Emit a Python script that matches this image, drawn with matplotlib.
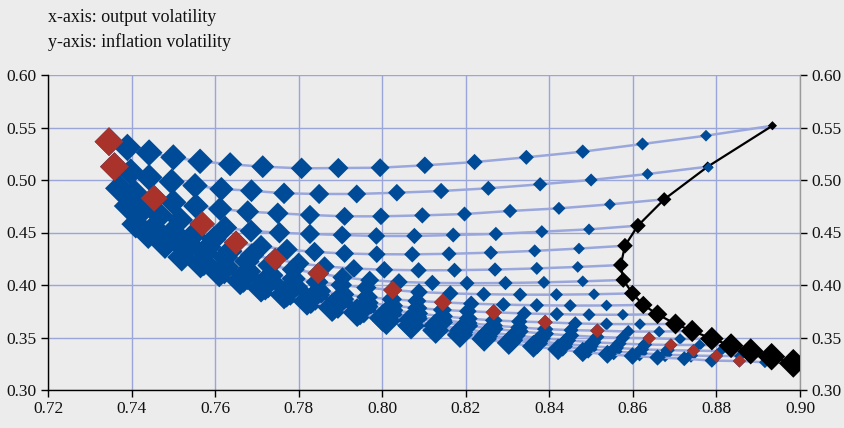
import matplotlib
matplotlib.use("Agg")
import matplotlib.pyplot as plt

# ---- data: 17 rule families (rows), points ordered right (col 0) to left (col 16)
x_r00 = [0.8934, 0.8775, 0.8623, 0.8480, 0.8345, 0.8221, 0.8102, 0.7995, 0.7895, 0.7807, 0.7714, 0.7636, 0.7564, 0.7500, 0.7442, 0.7390, 0.7346]
y_r00 = [0.5517, 0.5422, 0.5343, 0.5270, 0.5216, 0.5171, 0.5140, 0.5117, 0.5114, 0.5111, 0.5127, 0.5150, 0.5178, 0.5216, 0.5260, 0.5310, 0.5365]
x_r01 = [0.8779, 0.8635, 0.8500, 0.8378, 0.8254, 0.8141, 0.8035, 0.7939, 0.7849, 0.7765, 0.7687, 0.7615, 0.7552, 0.7496, 0.7442, 0.7398, 0.7359]
y_r01 = [0.5127, 0.5057, 0.5000, 0.4959, 0.4921, 0.4895, 0.4879, 0.4867, 0.4867, 0.4873, 0.4898, 0.4914, 0.4946, 0.4984, 0.5025, 0.5076, 0.5127]
x_r02 = [0.8675, 0.8545, 0.8423, 0.8306, 0.8197, 0.8096, 0.7997, 0.7910, 0.7827, 0.7750, 0.7678, 0.7612, 0.7554, 0.7500, 0.7454, 0.7408, 0.7371]
y_r02 = [0.4816, 0.4768, 0.4730, 0.4705, 0.4676, 0.4663, 0.4654, 0.4654, 0.4667, 0.4683, 0.4698, 0.4724, 0.4752, 0.4788, 0.4826, 0.4873, 0.4921]
x_r03 = [0.8612, 0.8495, 0.8382, 0.8272, 0.8170, 0.8077, 0.7986, 0.7904, 0.7827, 0.7754, 0.7686, 0.7624, 0.7569, 0.7516, 0.7468, 0.7424, 0.7392]
y_r03 = [0.4565, 0.4530, 0.4508, 0.4486, 0.4476, 0.4467, 0.4467, 0.4476, 0.4486, 0.4498, 0.4514, 0.4546, 0.4581, 0.4620, 0.4661, 0.4705, 0.4752]
x_r04 = [0.8581, 0.8471, 0.8365, 0.8260, 0.8160, 0.8072, 0.7987, 0.7910, 0.7838, 0.7772, 0.7710, 0.7650, 0.7597, 0.7547, 0.7499, 0.7453, 0.7410]
y_r04 = [0.4374, 0.4347, 0.4325, 0.4308, 0.4297, 0.4292, 0.4293, 0.4300, 0.4315, 0.4338, 0.4368, 0.4403, 0.4438, 0.4473, 0.4510, 0.4545, 0.4580]
x_r05 = [0.8571, 0.8468, 0.8370, 0.8270, 0.8173, 0.8087, 0.8005, 0.7932, 0.7862, 0.7800, 0.7744, 0.7688, 0.7635, 0.7584, 0.7535, 0.7487, 0.7440]
y_r05 = [0.4190, 0.4172, 0.4158, 0.4147, 0.4141, 0.4140, 0.4145, 0.4157, 0.4177, 0.4206, 0.4245, 0.4283, 0.4322, 0.4362, 0.4402, 0.4441, 0.4480]
x_r06 = [0.8577, 0.8480, 0.8387, 0.8295, 0.8203, 0.8120, 0.8040, 0.7970, 0.7905, 0.7847, 0.7787, 0.7730, 0.7676, 0.7624, 0.7575, 0.7527, 0.7480]
y_r06 = [0.4048, 0.4035, 0.4025, 0.4019, 0.4017, 0.4020, 0.4029, 0.4046, 0.4073, 0.4111, 0.4148, 0.4186, 0.4225, 0.4265, 0.4306, 0.4346, 0.4385]
x_r07 = [0.8599, 0.8507, 0.8417, 0.8330, 0.8243, 0.8163, 0.8088, 0.8025, 0.7962, 0.7902, 0.7844, 0.7788, 0.7733, 0.7679, 0.7626, 0.7573, 0.7520]
y_r07 = [0.3920, 0.3912, 0.3908, 0.3908, 0.3912, 0.3920, 0.3933, 0.3952, 0.3975, 0.4000, 0.4028, 0.4059, 0.4093, 0.4130, 0.4170, 0.4215, 0.4265]
x_r08 = [0.8625, 0.8537, 0.8450, 0.8370, 0.8290, 0.8213, 0.8145, 0.8083, 0.8023, 0.7964, 0.7906, 0.7849, 0.7792, 0.7735, 0.7678, 0.7622, 0.7565]
y_r08 = [0.3810, 0.3805, 0.3804, 0.3807, 0.3813, 0.3822, 0.3835, 0.3848, 0.3864, 0.3885, 0.3911, 0.3943, 0.3981, 0.4027, 0.4079, 0.4137, 0.4200]
x_r09 = [0.8659, 0.8576, 0.8495, 0.8418, 0.8340, 0.8267, 0.8205, 0.8144, 0.8084, 0.8024, 0.7964, 0.7904, 0.7845, 0.7786, 0.7727, 0.7668, 0.7610]
y_r09 = [0.3721, 0.3717, 0.3717, 0.3722, 0.3729, 0.3740, 0.3750, 0.3763, 0.3780, 0.3803, 0.3831, 0.3866, 0.3906, 0.3951, 0.4001, 0.4056, 0.4115]
x_r10 = [0.8702, 0.8617, 0.8537, 0.8462, 0.8390, 0.8328, 0.8267, 0.8206, 0.8145, 0.8084, 0.8023, 0.7962, 0.7901, 0.7840, 0.7780, 0.7720, 0.7660]
y_r10 = [0.3629, 0.3627, 0.3628, 0.3634, 0.3645, 0.3652, 0.3663, 0.3680, 0.3702, 0.3729, 0.3760, 0.3796, 0.3836, 0.3880, 0.3930, 0.3983, 0.4040]
x_r11 = [0.8742, 0.8663, 0.8589, 0.8515, 0.8452, 0.8390, 0.8328, 0.8266, 0.8204, 0.8142, 0.8080, 0.8018, 0.7956, 0.7894, 0.7832, 0.7771, 0.7710]
y_r11 = [0.3562, 0.3556, 0.3557, 0.3565, 0.3570, 0.3580, 0.3595, 0.3614, 0.3638, 0.3666, 0.3698, 0.3734, 0.3774, 0.3818, 0.3865, 0.3916, 0.3970]
x_r12 = [0.8789, 0.8713, 0.8639, 0.8576, 0.8514, 0.8452, 0.8390, 0.8328, 0.8266, 0.8204, 0.8142, 0.8080, 0.8018, 0.7956, 0.7894, 0.7829, 0.7765]
y_r12 = [0.3489, 0.3486, 0.3493, 0.3497, 0.3505, 0.3519, 0.3536, 0.3558, 0.3583, 0.3611, 0.3644, 0.3679, 0.3718, 0.3760, 0.3805, 0.3854, 0.3905]
x_r13 = [0.8835, 0.8760, 0.8691, 0.8629, 0.8567, 0.8505, 0.8443, 0.8381, 0.8319, 0.8257, 0.8195, 0.8133, 0.8071, 0.8009, 0.7947, 0.7883, 0.7820]
y_r13 = [0.3422, 0.3429, 0.3429, 0.3433, 0.3442, 0.3455, 0.3473, 0.3494, 0.3519, 0.3548, 0.3581, 0.3617, 0.3656, 0.3699, 0.3744, 0.3793, 0.3845]
x_r14 = [0.8882, 0.8810, 0.8745, 0.8683, 0.8621, 0.8559, 0.8497, 0.8435, 0.8373, 0.8311, 0.8249, 0.8187, 0.8125, 0.8063, 0.8001, 0.7940, 0.7880]
y_r14 = [0.3368, 0.3371, 0.3375, 0.3379, 0.3387, 0.3401, 0.3418, 0.3439, 0.3464, 0.3493, 0.3525, 0.3560, 0.3599, 0.3641, 0.3686, 0.3734, 0.3785]
x_r15 = [0.8932, 0.8856, 0.8800, 0.8739, 0.8677, 0.8616, 0.8554, 0.8493, 0.8432, 0.8371, 0.8310, 0.8248, 0.8187, 0.8125, 0.8063, 0.8001, 0.7940]
y_r15 = [0.3317, 0.3324, 0.3324, 0.3328, 0.3336, 0.3350, 0.3367, 0.3389, 0.3414, 0.3443, 0.3475, 0.3511, 0.3550, 0.3592, 0.3638, 0.3686, 0.3738]
x_r16 = [0.8984, 0.8916, 0.8855, 0.8789, 0.8723, 0.8659, 0.8599, 0.8539, 0.8480, 0.8421, 0.8362, 0.8303, 0.8244, 0.8186, 0.8128, 0.8069, 0.8010]
y_r16 = [0.3254, 0.3264, 0.3276, 0.3280, 0.3298, 0.3310, 0.3324, 0.3340, 0.3362, 0.3387, 0.3416, 0.3449, 0.3486, 0.3525, 0.3567, 0.3612, 0.3660]

# column at which each row carries the red (highlighted) point
red_col = [16, 16, 14, 12, 11, 10, 9, 7, 6, 5, 4, 3, 2, 2, 2, 2, 2]
# relative marker magnitude per column (blue/red) and per row (black frontier)
col_mag = [8, 9, 10, 11, 11.5, 12.5, 13.5, 14.5, 15.5, 16.5, 17.5, 18.5, 19.5, 20, 20.5, 21, 22]
row_mag = [7, 8, 11, 12, 12, 12, 12, 13, 14, 15, 16, 17, 18, 19, 20, 21, 22]

xticks = [0.72, 0.74, 0.76, 0.78, 0.80, 0.82, 0.84, 0.86, 0.88, 0.90]
yticks = [0.30, 0.35, 0.40, 0.45, 0.50, 0.55, 0.60]

rows_x = [x_r00, x_r01, x_r02, x_r03, x_r04, x_r05, x_r06, x_r07, x_r08,
          x_r09, x_r10, x_r11, x_r12, x_r13, x_r14, x_r15, x_r16]
rows_y = [y_r00, y_r01, y_r02, y_r03, y_r04, y_r05, y_r06, y_r07, y_r08,
          y_r09, y_r10, y_r11, y_r12, y_r13, y_r14, y_r15, y_r16]

BG = '#ececec'
BLUE = '#004b97'
RED = '#a9322a'
LINE = '#9aa7dc'
GRID = '#9aa5d8'
FONT = 'Liberation Serif'


def area(px):
    # diamond tip-to-tip size in pixels -> scatter area (points^2)
    return (px / 1.5) ** 2


fig = plt.figure(figsize=(8.45, 4.28), dpi=100, facecolor=BG)
ax = fig.add_axes([48 / 845, 38 / 428, 752 / 845, 315 / 428])
ax.set_facecolor(BG)
ax.set_xlim(0.72, 0.90)
ax.set_ylim(0.30, 0.60)
ax.set_xticks(xticks)
ax.set_yticks(yticks)
ax.set_xticklabels([f"{v:.2f}" for v in xticks], fontfamily=FONT, fontsize=12.5)
ax.set_yticklabels([f"{v:.2f}" for v in yticks], fontfamily=FONT, fontsize=12.5)
ax.grid(True, color=GRID, linewidth=1.0, zorder=0)
ax.set_axisbelow(True)
ax.tick_params(axis='both', direction='out', length=5, width=1, colors='black',
               labelcolor='#111111', pad=3)
ax.tick_params(axis='y', right=True, labelright=True)
for side in ['left', 'bottom']:
    ax.spines[side].set_color('black')
    ax.spines[side].set_linewidth(1.0)
for side in ['top', 'right']:
    ax.spines[side].set_color('#9a9a9a')
    ax.spines[side].set_linewidth(1.0)
ax.spines['top'].set_visible(False)

n = len(rows_x)
for r in range(n):
    xs, ys = rows_x[r], rows_y[r]
    ax.plot(xs, ys, color=LINE, linewidth=1.8, zorder=2 + 2 * r, solid_capstyle='round')
    ax.scatter(xs[1:], ys[1:], s=[area(m) for m in col_mag[1:]], marker='D',
               color=BLUE, linewidths=0, zorder=3 + 2 * r)
    if r == 1:
        ax.scatter([xs[0]], [ys[0]], s=area(col_mag[0]), marker='D', color=BLUE,
                   linewidths=0, zorder=80)

# red highlighted points
rx = [rows_x[r][red_col[r]] for r in range(n)]
ry = [rows_y[r][red_col[r]] for r in range(n)]
rs = [area(col_mag[red_col[r]]) for r in range(n)]
ax.scatter(rx, ry, s=rs, marker='D', color=RED, linewidths=0, zorder=60)

# black frontier (col 0 of each row)
bx = [rows_x[r][0] for r in range(n)]
by = [rows_y[r][0] for r in range(n)]
ax.plot(bx, by, color='black', linewidth=1.6, zorder=70)
ax.scatter(bx, by, s=[area(m) for m in row_mag], marker='D', color='black',
           linewidths=0, zorder=71)

fig.text(48 / 845, 1 - 18 / 428, 'x-axis: output volatility', fontfamily=FONT,
         fontsize=13, va='center', ha='left', color='#111111')
fig.text(48 / 845, 1 - 42 / 428, 'y-axis: inflation volatility', fontfamily=FONT,
         fontsize=13, va='center', ha='left', color='#111111')

fig.savefig('out.png', dpi=100, facecolor=BG)
